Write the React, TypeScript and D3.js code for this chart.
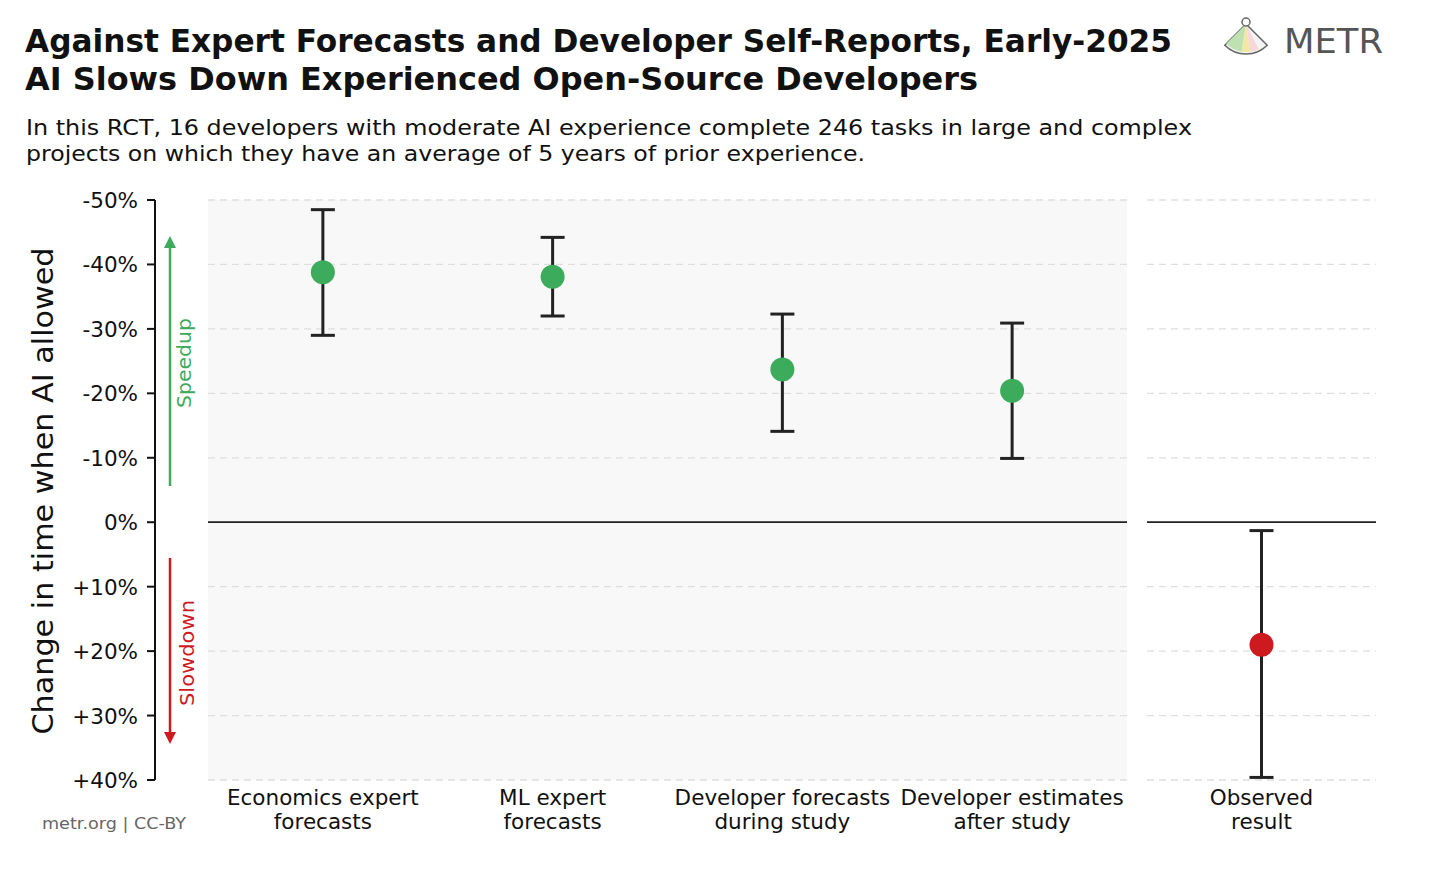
import * as d3 from "d3"

const categories = [
  ["Economics expert", "forecasts"],
  ["ML expert", "forecasts"],
  ["Developer forecasts", "during study"],
  ["Developer estimates", "after study"],
]
const forecastMid = [-38.8, -38.1, -23.7, -20.4]
const forecastLow = [-48.5, -44.2, -32.3, -30.9]
const forecastHigh = [-29.0, -32.0, -14.1, -9.9]

const observedLabel = ["Observed", "result"]
const observedMid = 19.0
const observedLow = 1.3
const observedHigh = 39.6

const yTicks = [-50, -40, -30, -20, -10, 0, 10, 20, 30, 40]

const GREEN = "#3dab5c"
const RED = "#cc1a1f"
const FONT = "'DejaVu Sans', sans-serif"

const W = 1456
const H = 885

export default function App() {
  const top = 200
  const bottom = 780
  const y = d3.scaleLinear().domain([-50, 40]).range([top, bottom])

  const x = d3
    .scaleBand()
    .domain(categories.map((c) => c.join(" ")))
    .range([208, 1127])
  const x2 = d3.scaleBand().domain([observedLabel.join(" ")]).range([1147, 1376])

  const fmt = (v: number) => (v > 0 ? `+${v}%` : `${v}%`)

  const errBar = (cx: number, lo: number, hi: number, mid: number, color: string, key: string) => (
    <g key={key}>
      <line x1={cx} x2={cx} y1={y(lo)} y2={y(hi)} stroke="#222" strokeWidth={3} />
      <line x1={cx - 12} x2={cx + 12} y1={y(lo)} y2={y(lo)} stroke="#222" strokeWidth={3} />
      <line x1={cx - 12} x2={cx + 12} y1={y(hi)} y2={y(hi)} stroke="#222" strokeWidth={3} />
      <circle cx={cx} cy={y(mid)} r={12} fill={color} />
    </g>
  )

  const grid = (x1: number, x2v: number, key: string) => (
    <g key={key}>
      {yTicks.map((t) =>
        t === 0 ? null : (
          <line key={t} x1={x1} x2={x2v} y1={y(t)} y2={y(t)} stroke="#dedede" strokeWidth={1.3} strokeDasharray="7,5" />
        )
      )}
      <line x1={x1} x2={x2v} y1={y(0)} y2={y(0)} stroke="#222" strokeWidth={1.8} />
    </g>
  )

  const xLabel = (lines: string[], cx: number, key: string) => (
    <text key={key} x={cx} y={805} textAnchor="middle" fontSize={21.5} fill="#111" fontFamily={FONT}>
      {lines.map((l, i) => (
        <tspan key={i} x={cx} dy={i === 0 ? 0 : 24}>
          {l}
        </tspan>
      ))}
    </text>
  )

  // logo fan
  const fan = d3.arc()
  const lx = 1246
  const ly = 46

  return (
    <svg width={W} height={H} style={{ position: "absolute", left: 0, top: 0, background: "#fff" }}>
      <text x={25} y={52} fontSize={32} fontWeight="bold" fill="#111" fontFamily={FONT} textLength={1147} lengthAdjust="spacingAndGlyphs">
        Against Expert Forecasts and Developer Self-Reports, Early-2025
      </text>
      <text x={25} y={90} fontSize={32} fontWeight="bold" fill="#111" fontFamily={FONT} textLength={953} lengthAdjust="spacingAndGlyphs">
        AI Slows Down Experienced Open-Source Developers
      </text>
      <text x={26} y={135} fontSize={21} fill="#111" fontFamily={FONT} textLength={1166} lengthAdjust="spacingAndGlyphs">
        In this RCT, 16 developers with moderate AI experience complete 246 tasks in large and complex
      </text>
      <text x={26} y={161} fontSize={21} fill="#111" fontFamily={FONT} textLength={839} lengthAdjust="spacingAndGlyphs">
        projects on which they have an average of 5 years of prior experience.
      </text>

      {/* logo */}
      <g transform={`translate(${lx},${ly - 22})`}>
        <path
          d={fan({ innerRadius: 0, outerRadius: 30, startAngle: Math.PI * 0.75, endAngle: Math.PI * 1.25 }) || ""}
          fill="#f4f4f4"
          stroke="#666"
          strokeWidth={1.5}
        />
        <path d={fan({ innerRadius: 0, outerRadius: 28, startAngle: Math.PI * 1.05, endAngle: Math.PI * 1.25 }) || ""} fill="#bfe0b0" />
        <path d={fan({ innerRadius: 0, outerRadius: 28, startAngle: Math.PI * 0.95, endAngle: Math.PI * 1.05 }) || ""} fill="#f3e7a6" />
        <path d={fan({ innerRadius: 0, outerRadius: 28, startAngle: Math.PI * 0.85, endAngle: Math.PI * 0.95 }) || ""} fill="#f7d7d7" />
        <circle cx={0} cy={-2} r={4} fill="#fff" stroke="#666" strokeWidth={1.5} />
      </g>
      <text x={1284} y={53} fontSize={34} fill="#555" fontFamily={FONT} textLength={99} lengthAdjust="spacingAndGlyphs">
        METR
      </text>

      {/* panels */}
      <rect x={208} y={top} width={919} height={bottom - top} fill="#f8f8f8" />
      {grid(208, 1127, "g1")}
      {grid(1147, 1376, "g2")}

      {/* y axis */}
      <line x1={155} x2={155} y1={top} y2={bottom} stroke="#111" strokeWidth={2} />
      {yTicks.map((t) => (
        <g key={t}>
          <line x1={147} x2={155} y1={y(t)} y2={y(t)} stroke="#111" strokeWidth={2} />
          <text x={138} y={y(t) + 8} textAnchor="end" fontSize={21.5} fill="#111" fontFamily={FONT}>
            {fmt(t)}
          </text>
        </g>
      ))}
      <text
        transform={`translate(53,491) rotate(-90)`}
        textAnchor="middle"
        fontSize={29}
        fill="#111"
        fontFamily={FONT}
        textLength={487}
        lengthAdjust="spacingAndGlyphs"
      >
        Change in time when AI allowed
      </text>

      {/* speedup / slowdown arrows */}
      <line x1={170} x2={170} y1={486} y2={244} stroke={GREEN} strokeWidth={2.5} />
      <path d={`M164,248 L170,236 L176,248 Z`} fill={GREEN} />
      <text transform={`translate(191,363) rotate(-90)`} textAnchor="middle" fontSize={19} fill={GREEN} fontFamily={FONT} textLength={90} lengthAdjust="spacingAndGlyphs">
        Speedup
      </text>
      <line x1={170} x2={170} y1={558} y2={736} stroke={RED} strokeWidth={2.5} />
      <path d={`M164,732 L170,744 L176,732 Z`} fill={RED} />
      <text transform={`translate(194,653) rotate(-90)`} textAnchor="middle" fontSize={19} fill={RED} fontFamily={FONT} textLength={106} lengthAdjust="spacingAndGlyphs">
        Slowdown
      </text>

      {/* forecasts */}
      {categories.map((c, i) => {
        const cx = (x(c.join(" ")) || 0) + x.bandwidth() / 2
        return errBar(cx, forecastLow[i], forecastHigh[i], forecastMid[i], GREEN, `e${i}`)
      })}
      {errBar((x2(observedLabel.join(" ")) || 0) + x2.bandwidth() / 2, observedLow, observedHigh, observedMid, RED, "obs")}

      {/* x labels */}
      {categories.map((c, i) => xLabel(c, (x(c.join(" ")) || 0) + x.bandwidth() / 2, `l${i}`))}
      {xLabel(observedLabel, (x2(observedLabel.join(" ")) || 0) + x2.bandwidth() / 2, "lo")}

      <text x={42} y={829} fontSize={16} fill="#666" fontFamily={FONT} textLength={144} lengthAdjust="spacingAndGlyphs">
        metr.org  |  CC-BY
      </text>
    </svg>
  )
}
